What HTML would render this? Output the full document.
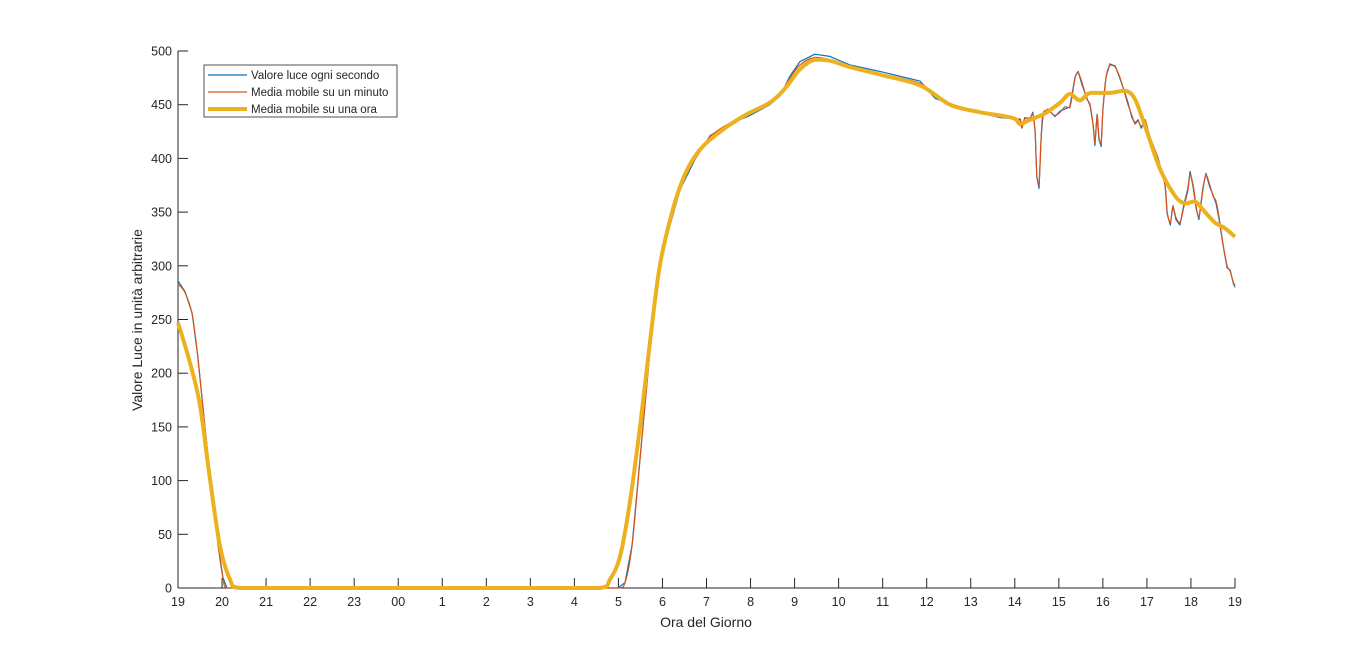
<!DOCTYPE html>
<html><head><meta charset="utf-8"><style>
body{margin:0;background:#fff;font-family:"Liberation Sans",Arial,sans-serif}
svg text{font-family:"Liberation Sans",Arial,sans-serif;fill:#262626}
</style></head><body>
<svg id="chart" width="1366" height="661" viewBox="0 0 1366 661" xmlns="http://www.w3.org/2000/svg">
<rect width="1366" height="661" fill="#fff"/>
<g id="axes"></g>
<g id="plot"></g>
<text x="706" y="627" font-size="14" text-anchor="middle">Ora del Giorno</text>
<text transform="translate(142,320) rotate(-90)" font-size="14" text-anchor="middle">Valore Luce in unità arbitrarie</text>
<g>
<rect x="204" y="65" width="193" height="52" fill="#fff" stroke="#262626" stroke-width="0.8"/>
<line x1="208" y1="75" x2="247" y2="75" stroke="#0072BD" stroke-width="1.2"/>
<text x="251" y="79" font-size="11.5">Valore luce ogni secondo</text>
<line x1="208" y1="92" x2="247" y2="92" stroke="#D95319" stroke-width="1.2"/>
<text x="251" y="96" font-size="11.5">Media mobile su un minuto</text>
<line x1="208" y1="109" x2="247" y2="109" stroke="#EDB120" stroke-width="4"/>
<text x="251" y="113" font-size="11.5">Media mobile su una ora</text>
</g>
</svg>
<script>
const xTickLabels=["19","20","21","22","23","00","1","2","3","4","5","6","7","8","9","10","11","12","13","14","15","16","17","18","19"];
const yTicks=[0,50,100,150,200,250,300,350,400,450,500];
const minuteT=[0,0.16,0.32,0.45,0.61,0.77,0.91,1.02,1.11,9.99,10.15,10.31,10.49,10.67,10.83,11.06,11.4,11.74,12.08,12.53,12.99,13.44,13.67,13.9,14.12,14.46,14.8,15.26,15.94,16.85,17.19,17.76,18.66,19.0,19.12,19.16,19.23,19.35,19.41,19.46,19.5,19.55,19.6,19.64,19.75,19.91,20.03,20.14,20.25,20.37,20.44,20.53,20.64,20.71,20.78,20.82,20.87,20.91,20.96,21.0,21.07,21.16,21.28,21.39,21.5,21.57,21.66,21.73,21.8,21.87,21.96,22.07,22.25,22.41,22.46,22.53,22.59,22.66,22.75,22.84,22.93,22.98,23.05,23.12,23.18,23.27,23.34,23.43,23.5,23.57,23.64,23.73,23.82,23.89,23.96,24];
const minuteV=[283,275,255,215,150,90,40,10,0,0,5,40,120,200,270,320,370,400,420,433,441,452,460,475,487,494,492,486,479,470,458,448,440,436,437,428,437,438,442,425,385,375,420,442,445,440,443,448,447,475,480,470,455,450,430,415,440,420,413,445,475,487,485,475,460,450,440,432,435,430,435,420,400,375,350,340,355,345,340,355,370,385,375,355,345,370,385,375,365,360,345,320,300,295,285,282];
const secondV=[286,276,256,216,150,90,40,10,0,0,5,40,120,200,270,321,371,399,421,432,440,450,458,477,490,497,495,487,481,472,456,447,438,437,436,430,438,437,443,426,383,372,421,440,446,439,444,446,448,476,481,468,456,449,431,412,441,418,411,446,476,488,486,474,461,452,438,433,436,428,436,419,401,376,348,338,356,343,338,357,372,388,373,353,343,372,386,373,366,358,343,319,298,296,284,280];
const hourT=[0,0.27,0.5,0.73,0.95,1.18,1.41,9.58,9.81,10.04,10.26,10.49,10.72,10.94,11.22,11.51,11.85,12.31,12.87,13.44,13.78,14.12,14.46,14.8,15.26,15.94,16.85,17.53,18.21,18.66,19,19.12,19.35,19.69,20.03,20.25,20.48,20.71,21.16,21.5,21.73,22.0,22.3,22.64,22.87,23.09,23.32,23.55,23.77,24];
const hourV=[247,210,170,100,40,8,0,0,8,30,80,150,230,300,350,385,408,425,440,452,465,483,492,491,485,478,468,450,443,440,437,432,436,442,452,460,454,461,461,463,455,425,390,365,358,360,350,340,335,327];

const X0=178,X1=1235,Y0=588,Y1=51;
const sx=t=>X0+(X1-X0)*t/24;
const sy=v=>Y0-(Y0-Y1)*v/500;
const NS="http://www.w3.org/2000/svg";
const plot=document.getElementById('plot'),axes=document.getElementById('axes');
const clamp=(v,a,b)=>Math.max(Math.min(a,b),Math.min(Math.max(a,b),v));
function line(ts,vs,color,w,name,smooth){
  const P=ts.map((t,i)=>[sx(t),sy(vs[i])]);
  let d='M'+P[0][0].toFixed(1)+','+P[0][1].toFixed(1);
  for(let i=0;i<P.length-1;i++){
    if(!smooth){d+='L'+P[i+1][0].toFixed(1)+','+P[i+1][1].toFixed(1);continue;}
    const p0=P[Math.max(0,i-1)],p1=P[i],p2=P[i+1],p3=P[Math.min(P.length-1,i+2)];
    const c1=[p1[0]+(p2[0]-p0[0])/6,p1[1]+(p2[1]-p0[1])/6];
    const c2=[p2[0]-(p3[0]-p1[0])/6,p2[1]-(p3[1]-p1[1])/6];
    c1[0]=clamp(c1[0],p1[0],p2[0]);c2[0]=clamp(c2[0],p1[0],p2[0]);
    c1[1]=clamp(c1[1],p1[1],p2[1]);c2[1]=clamp(c2[1],p1[1],p2[1]);
    d+='C'+c1.map(v=>v.toFixed(1))+' '+c2.map(v=>v.toFixed(1))+' '+p2.map(v=>v.toFixed(1));
  }
  const p=document.createElementNS(NS,'path');
  p.setAttribute('d',d);
  p.setAttribute('fill','none');p.setAttribute('stroke',color);p.setAttribute('stroke-width',w);
  p.setAttribute('stroke-linejoin','round');
  
  
  plot.appendChild(p);
}
line(minuteT,secondV,'#0072BD',1.2,'series-second',false);
line(minuteT,minuteV,'#D95319',1.2,'series-minute',true);
line(hourT,hourV,'#EDB120',4,'series-hour',true);
function mk(tag,attrs){const e=document.createElementNS(NS,tag);for(const k in attrs)e.setAttribute(k,attrs[k]);axes.appendChild(e);return e;}
const xa=mk('line',{x1:X0,y1:Y0,x2:X1,y2:Y0,stroke:'#262626','stroke-width':1});


const ya=mk('line',{x1:X0,y1:Y0,x2:X0,y2:Y1,stroke:'#262626','stroke-width':1});


xTickLabels.forEach((l,i)=>{
  const x=sx(i);
  mk('line',{x1:x,y1:Y0,x2:x,y2:Y0-10,stroke:'#262626','stroke-width':1});
  const t=mk('text',{x:x,y:Y0+18,'font-size':12.5,'text-anchor':'middle'});t.textContent=l;
  
  
});
yTicks.forEach(v=>{
  const y=sy(v);
  mk('line',{x1:X0,y1:y,x2:X0+10,y2:y,stroke:'#262626','stroke-width':1});
  const t=mk('text',{x:X0-6,y:y+4.5,'font-size':12.5,'text-anchor':'end'});t.textContent=v;
  
  
});
</script>
</body></html>
